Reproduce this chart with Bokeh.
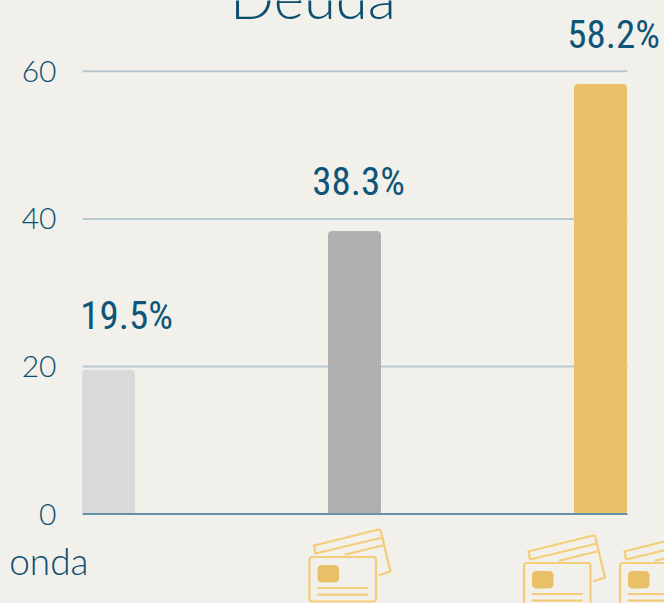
from bokeh.embed import file_html
from bokeh.resources import INLINE
from bokeh.plotting import figure
from bokeh.models import ColumnDataSource, FixedTicker, GlobalInlineStyleSheet, Label, Range1d

# Data
categories = [0, 1, 2]
values = [19.5, 38.3, 58.2]
value_labels = ["19.5%", "38.3%", "58.2%"]
bar_colors = ["#d9d9d9", "#b0b0b0", "#e9c067"]
y_ticks = [0, 20, 40, 60]
title_text = "Deuda"
first_category_text = "onda"

BG = "#f1f0eb"
INK = "#0f5577"
CARD = "#f3cd78"
CHIP = "#e9c067"

PX_X = 246.0
PX_Y = 7.38
X0 = 108
Y0 = 513.6
LEFT = (82 - X0) / PX_X
RIGHT = (627 - X0) / PX_X

p = figure(width=664, height=603, output_backend="svg", toolbar_location=None,
           x_range=Range1d(-X0 / PX_X, (664 - X0) / PX_X), y_range=Range1d((Y0 - 603) / PX_Y, Y0 / PX_Y),
           min_border_left=0, min_border_right=0, min_border_top=0, min_border_bottom=0,
           background_fill_color=BG, border_fill_color=BG, outline_line_color=None)
p.stylesheets = [GlobalInlineStyleSheet(css=f"html,body{{margin:0;padding:0;background:{BG};overflow:hidden}}")]

p.grid.visible = False
p.xaxis.visible = False

p.yaxis.fixed_location = LEFT
p.yaxis.ticker = FixedTicker(ticks=y_ticks)
p.yaxis.axis_line_color = None
p.yaxis.major_tick_line_color = None
p.yaxis.minor_tick_line_color = None
p.yaxis.major_label_text_font = "Lato Light"
p.yaxis.major_label_text_font_size = "30px"
p.yaxis.major_label_text_color = "#0b4f70"
p.yaxis.major_label_standoff = 20

# gridlines and baseline
p.segment(x0=[LEFT] * 3, x1=[RIGHT] * 3, y0=y_ticks[1:], y1=y_ticks[1:], line_color="#b7c8cf", line_width=2)

src = ColumnDataSource(dict(x=categories, top=values, color=bar_colors))
p.vbar(x="x", top="top", bottom=0, width=52 / PX_X, color="color", source=src, border_radius=3)
p.segment(x0=[LEFT], x1=[RIGHT], y0=[0], y1=[0], line_color="#6493a8", line_width=2)

# value labels
label_dx = [18, 4, 13]
label_dy = [54, 49, 50]
for c, v, t, dx, dy in zip(categories, values, value_labels, label_dx, label_dy):
    p.add_layout(Label(x=c + dx / PX_X, y=v, y_offset=dy, text=t, text_align="center", text_baseline="alphabetic",
                       text_font="Roboto Condensed", text_font_size="39px", text_color=INK))

# title and clipped category name
p.add_layout(Label(x=(312.5 - X0) / PX_X, y=(Y0 + 4) / PX_Y, text=title_text, text_align="center",
                   text_baseline="alphabetic", text_font="Lato Light", text_font_size="58px", text_color="#0b4f70"))
p.add_layout(Label(x=(88 - X0) / PX_X, y=(Y0 - 560) / PX_Y, text=first_category_text, text_align="right",
                   text_baseline="alphabetic", text_font="Lato Light", text_font_size="37px", text_color="#0b4f70"))


def to_data(points, anchor):
    ax, ay = anchor
    return [(ax + x - X0) / PX_X for x, _ in points], [(Y0 - (ay + y)) / PX_Y for _, y in points]


def rrect(x0, y0, x1, y1, r):
    k = r * 0.3
    return [(x0 + r, y0), (x1 - r, y0), (x1 - k, y0 + k), (x1, y0 + r), (x1, y1 - r), (x1 - k, y1 - k), (x1 - r, y1),
            (x0 + r, y1), (x0 + k, y1 - k), (x0, y1 - r), (x0, y0 + r), (x0 + k, y0 + k)]


def stroke(points, anchor, width=2.2):
    xs, ys = to_data(points, anchor)
    p.line(xs, ys, line_color=CARD, line_width=width, line_cap="round", line_join="round")


def filled(points, anchor, fill, color, width=2.2):
    xs, ys = to_data(points, anchor)
    p.patch(xs, ys, fill_color=fill, line_color=color, line_width=width, line_join="round")


def card_icon(anchor):
    # back card, tilted
    stroke([(6, -10.5), (5.5, -11.5), (70, -27.5), (72, -27), (82, 14.5), (71, 18)], anchor)
    stroke([(5.5, -11.5), (7, -3.5), (72, -19)], anchor)
    stroke([(37, -2.5), (74, -11.5)], anchor)
    # front card
    filled(rrect(1, 0, 67.5, 44.5, 2.5), anchor, BG, CARD)
    filled(rrect(9.5, 8.5, 30, 25, 3), anchor, CHIP, CHIP, 1)
    stroke([(9.5, 31), (59, 31)], anchor)
    stroke([(9.5, 37.7), (59, 37.7)], anchor)


for a in [(308, 556.5), (522.5, 562.5), (618.5, 562.5)]:
    card_icon(a)

html = file_html(p, INLINE)
open("out.html", "w").write(html)
